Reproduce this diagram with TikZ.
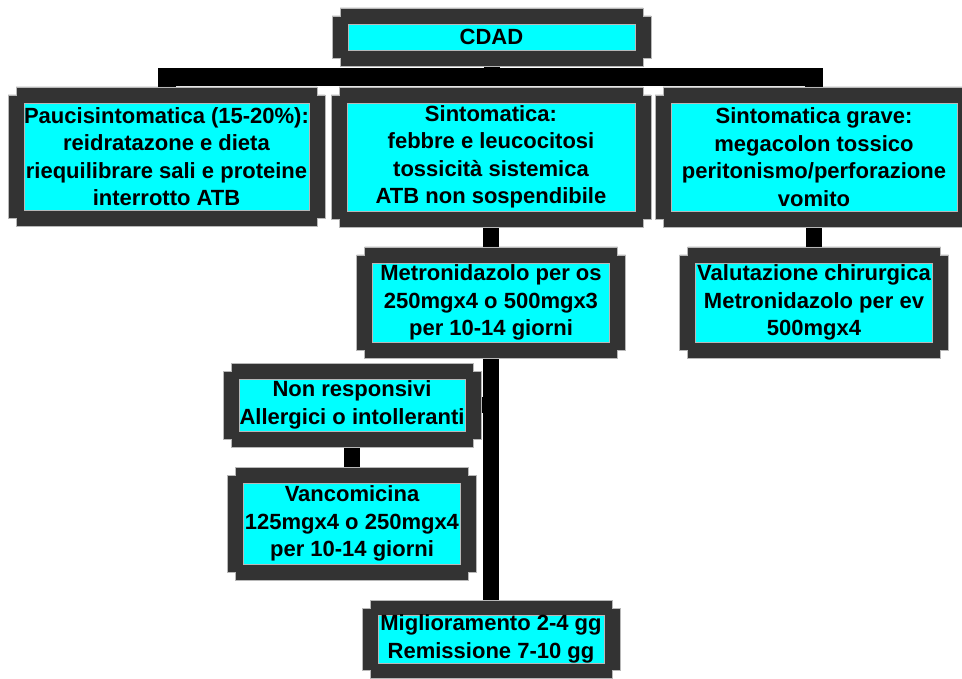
\documentclass[tikz,border=0pt]{standalone}
\usepackage{fontspec}
\setmainfont{Liberation Sans}
\usetikzlibrary{calc}
\pgfdeclarelayer{background}
\pgfsetlayers{background,main}
\definecolor{boxgray}{HTML}{333333}
\definecolor{edgegray}{HTML}{B8B8B8}
\definecolor{cyanfill}{HTML}{00FFFF}
\tikzset{
  outerbox/.style={draw=none,fill=none,inner sep=0pt,outer sep=0pt,rectangle},
  innerbox/.style={fill=cyanfill,draw=edgegray,line width=0.6pt,inner sep=0pt,outer sep=0pt,
    align=center,font=\fontsize{22}{27.5}\selectfont\bfseries,text=black},
  conn/.style={line width=16pt,black},
  barline/.style={line width=18pt,black,line join=miter},
}
\newcommand\cdbox[6]{%
  \node[outerbox,minimum width=#4pt,minimum height=#5pt] (#1) at (#2,#3) {};
  \fill[boxgray,draw=edgegray,line width=0.8pt]
    ($(#1.north west)+(8pt,0)$) -- ($(#1.north east)+(-8pt,0)$) -- ($(#1.north east)+(-8pt,-8pt)$)
    -- ($(#1.north east)+(0,-8pt)$) -- ($(#1.south east)+(0,8pt)$) -- ($(#1.south east)+(-8pt,8pt)$)
    -- ($(#1.south east)+(-8pt,0)$) -- ($(#1.south west)+(8pt,0)$) -- ($(#1.south west)+(8pt,8pt)$)
    -- ($(#1.south west)+(0,8pt)$) -- ($(#1.north west)+(0,-8pt)$) -- ($(#1.north west)+(8pt,-8pt)$) -- cycle;
  \node[innerbox,minimum width=#4pt-32pt,minimum height=#5pt-32pt] (#1-in) at (#1) {#6};
}
\begin{document}
\begin{tikzpicture}[x=1pt,y=-1pt]
\clip (0,0) rectangle (962,679);
\begin{pgfonlayer}{background}
\fill[white] (0,0) rectangle (962,679);
\end{pgfonlayer}
\cdbox{cdad}{491.5}{37}{319}{58}{CDAD}
\cdbox{pauci}{166.5}{156.5}{317}{139}{Paucisintomatica (15-20\%):\\reidratazone e dieta\\riequilibrare sali e proteine\\interrotto ATB}
\cdbox{sinto}{491}{157}{320}{140}{Sintomatica:\\febbre e leucocitosi\\tossicità sistemica\\ATB non sospendibile}
\cdbox{grave}{814}{157}{318}{140}{Sintomatica grave:\\megacolon tossico\\peritonismo/perforazione\\vomito}
\cdbox{metro}{491}{302.5}{269}{111}{Metronidazolo per os\\250mgx4 o 500mgx3\\per 10-14 giorni}
\cdbox{valut}{814}{302.5}{269}{111}{Valutazione chirurgica\\Metronidazolo per ev\\500mgx4}
\cdbox{nonresp}{352}{405}{258}{84}{Non responsivi\\Allergici o intolleranti}
\cdbox{vanco}{352}{523.5}{249}{113}{Vancomicina\\125mgx4 o 250mgx4\\per 10-14 giorni}
\cdbox{migl}{491}{639}{258}{78}{Miglioramento 2-4 gg\\Remissione 7-10 gg}
\coordinate (bar) at (491,77);
\begin{pgfonlayer}{background}
\draw[conn] (cdad.south) -- (cdad.south |- bar);
\draw[barline] (pauci.north) -- (pauci.north |- bar) -- (grave.north |- bar) -- (grave.north);
\draw[conn] (sinto.south) -- (metro.north);
\draw[conn] (grave.south) -- (valut.north);
\draw[conn] (metro.south) -- (migl.north);
\draw[conn] (nonresp.center) -- (nonresp.center -| metro.south);
\draw[conn] (nonresp.south) -- (vanco.north);
\end{pgfonlayer}
\end{tikzpicture}
\end{document}
